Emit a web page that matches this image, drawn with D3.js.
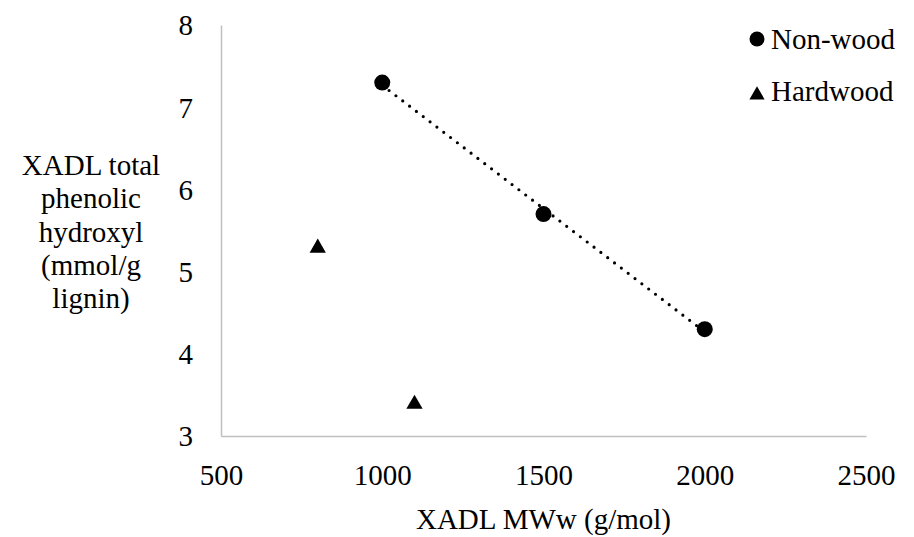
<!DOCTYPE html>
<html>
<head>
<meta charset="utf-8">
<script src="https://cdn.jsdelivr.net/npm/d3@7/dist/d3.min.js"></script>
<style>
  body { margin: 0; background: #fff; }
</style>
</head>
<body>
<svg id="chart" width="914" height="537"></svg>
<script>
// ---- data ----
const nonWoodX = [1000, 1500, 2000];
const nonWoodY = [7.3, 5.7, 4.3];
const hardwoodX = [800, 1100];
const hardwoodY = [5.3, 3.4];
const xTicks = [500, 1000, 1500, 2000, 2500];
const yTicks = [3, 4, 5, 6, 7, 8];
const seriesNames = ["Non-wood", "Hardwood"];
const yTitleLines = ["XADL total", "phenolic", "hydroxyl", "(mmol/g", "lignin)"];
const xTitle = "XADL MWw (g/mol)";

// ---- layout ----
const FONT = "Times New Roman, Tinos, Liberation Serif, DejaVu Serif, serif";
const svg = d3.select("#chart");
const L = 221, R = 866, T = 25, B = 436;
const x = d3.scaleLinear().domain([500, 2500]).range([L, R]);
const y = d3.scaleLinear().domain([3, 8]).range([B, T]);
const fs = 29;

// axes
const axisColor = "#bfbfbf";
const xAxis = d3.axisBottom(x).tickValues(xTicks).tickSize(0).tickPadding(0).tickFormat(d3.format("d"));
const yAxis = d3.axisLeft(y).tickValues(yTicks).tickSize(0).tickPadding(0).tickFormat(d3.format("d"));

const gx = svg.append("g").attr("transform", `translate(0,${B})`).call(xAxis).attr("font-family", FONT).attr("font-size", fs);
gx.select(".domain").attr("stroke", axisColor).attr("stroke-width", 1.5);
gx.selectAll(".tick text").attr("dy", null).attr("y", 49).attr("fill", "#000");

const gy = svg.append("g").attr("transform", `translate(${L},0)`).call(yAxis).attr("font-family", FONT).attr("font-size", fs);
gy.select(".domain").attr("stroke", axisColor).attr("stroke-width", 1.5);
gy.selectAll(".tick text").attr("x", -28).attr("dy", "0.34em").attr("fill", "#000");

// trend line (linear least squares on Non-wood)
const mx = d3.mean(nonWoodX), my = d3.mean(nonWoodY);
const slope = d3.sum(nonWoodX, (v, i) => (v - mx) * (nonWoodY[i] - my)) / d3.sum(nonWoodX, v => (v - mx) ** 2);
const icpt = my - slope * mx;
const x0 = d3.min(nonWoodX), x1 = d3.max(nonWoodX);
svg.append("line")
  .attr("x1", x(x0)).attr("y1", y(icpt + slope * x0))
  .attr("x2", x(x1)).attr("y2", y(icpt + slope * x1))
  .attr("stroke", "#000").attr("stroke-width", 3.2)
  .attr("stroke-linecap", "round").attr("stroke-dasharray", "0 8.6");

// markers
svg.append("g").selectAll("circle").data(nonWoodX).join("circle")
  .attr("cx", d => x(d)).attr("cy", (d, i) => y(nonWoodY[i])).attr("r", 8).attr("fill", "#000");

const tri = d3.symbol().type(d3.symbolTriangle).size(115);
svg.append("g").selectAll("path").data(hardwoodX).join("path")
  .attr("d", tri)
  .attr("transform", (d, i) => `translate(${x(d)},${y(hardwoodY[i]) + 1})`)
  .attr("fill", "#000");

// legend
const leg = svg.append("g").attr("font-family", FONT).attr("font-size", fs);
leg.append("circle").attr("cx", 757).attr("cy", 39).attr("r", 7.5).attr("fill", "#000");
leg.append("text").attr("x", 771).attr("y", 49).text(seriesNames[0]);
leg.append("path").attr("d", d3.symbol().type(d3.symbolTriangle).size(100)())
  .attr("transform", "translate(757,95)").attr("fill", "#000");
leg.append("text").attr("x", 771).attr("y", 101).text(seriesNames[1]);

// titles
svg.append("text").attr("x", (L + R) / 2).attr("y", 529).attr("text-anchor", "middle")
  .attr("font-family", FONT).attr("font-size", fs).text(xTitle);
const yt = svg.append("text").attr("text-anchor", "middle").attr("font-family", FONT).attr("font-size", fs);
yTitleLines.forEach((s, i) => {
  yt.append("tspan").attr("x", 91).attr("y", 175 + i * 33.3).text(s);
});
</script>
</body>
</html>
